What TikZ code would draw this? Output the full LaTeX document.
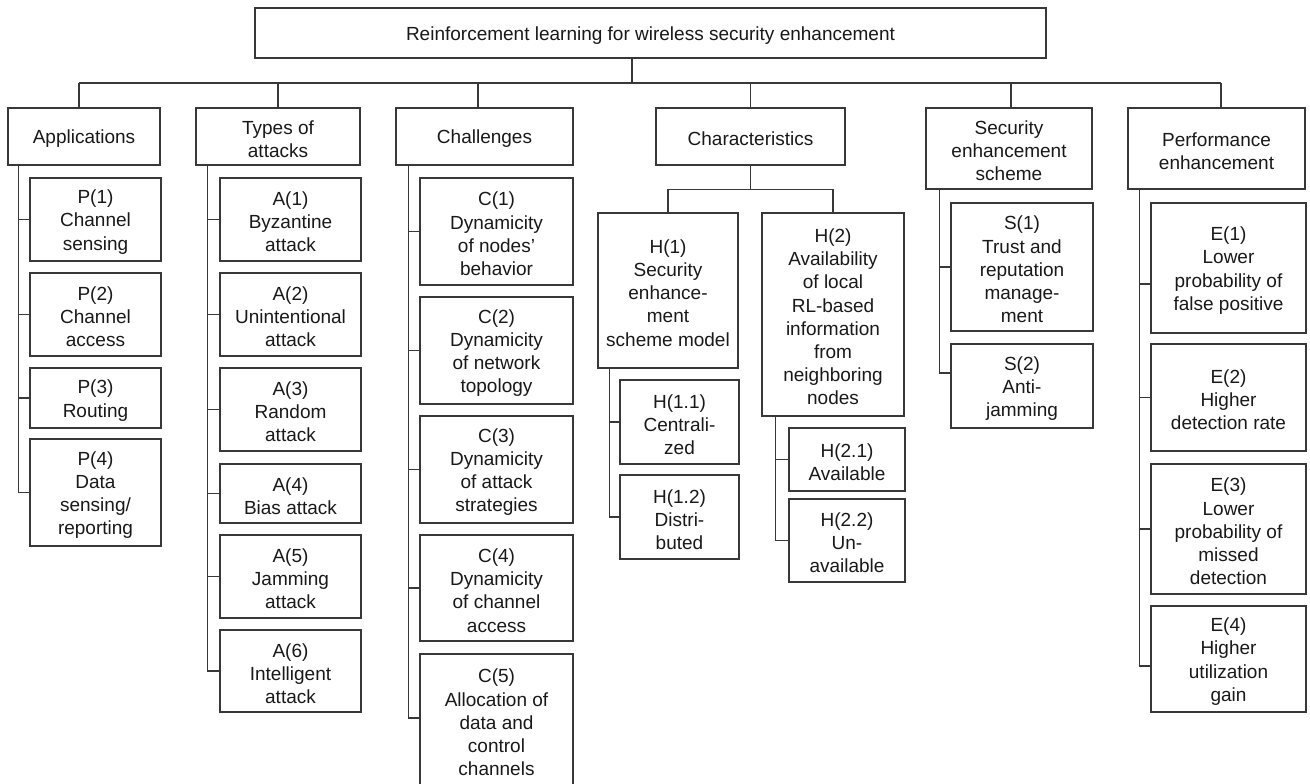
\documentclass[tikz,border=0pt]{standalone}
\usepackage{fontspec}
\setmainfont{Liberation Sans}
\tikzset{
  bx/.style={draw=black!78, line width=1.2pt, fill=white, inner sep=0pt},
  lbl/.style={inner sep=0pt, align=center, text=black!90,
    font=\fontsize{19pt}{23.2pt}\selectfont},
  wire/.style={draw=black!78, line width=1.2pt},
}
% box node #1 centred at (#2,#3), #4 wide and #5 high, with its text #6 as node #1t
\newcommand{\bxn}[6]{%
  \node[bx, minimum width=#4pt, minimum height=#5pt] (#1) at (#2,#3) {};
  \node[lbl] (#1t) at ([yshift=-2.5pt]#1.center) {#6};}
\begin{document}
\begin{tikzpicture}[x=1pt,y=-1pt]
\useasboundingbox (0,0) rectangle (1310,784);

% root
\bxn{root}{650.5}{33}{791}{50}{Reinforcement learning for wireless security enhancement}

% first level
\bxn{app}{84}{136.5}{152}{57}{Applications}
\bxn{typ}{278}{136.5}{164}{57}{Types of\\attacks}
\bxn{chal}{484.5}{136.5}{177}{57}{Challenges}
\bxn{char}{750.5}{136.5}{189}{57}{Characteristics}
\bxn{sec}{1009}{148.5}{166}{81}{Security\\enhancement\\scheme}
\bxn{perf}{1216.5}{148.5}{177}{81}{Performance\\enhancement}

% applications
\bxn{p1}{95.5}{219.5}{131}{83}{P(1)\\Channel\\sensing}
\bxn{p2}{95.5}{314.5}{131}{83}{P(2)\\Channel\\access}
\bxn{p3}{95.5}{398}{131}{60}{P(3)\\Routing}
\bxn{p4}{95.5}{492.5}{131}{107}{P(4)\\Data\\sensing/\\reporting}

% types of attacks
\bxn{a1}{290.5}{219.5}{141}{83}{A(1)\\Byzantine\\attack}
\bxn{a2}{290.5}{314.5}{141}{83}{A(2)\\Unintentional\\attack}
\bxn{a3}{290.5}{409.5}{141}{83}{A(3)\\Random\\attack}
\bxn{a4}{290.5}{493.5}{141}{59}{A(4)\\Bias attack}
\bxn{a5}{290.5}{576.5}{141}{83}{A(5)\\Jamming\\attack}
\bxn{a6}{290.5}{671}{141}{82}{A(6)\\Intelligent\\attack}

% challenges
\bxn{c1}{496.5}{231.5}{153}{107}{C(1)\\Dynamicity\\of nodes’\\behavior}
\bxn{c2}{496.5}{350.5}{153}{107}{C(2)\\Dynamicity\\of network\\topology}
\bxn{c3}{496.5}{469.5}{153}{107}{C(3)\\Dynamicity\\of attack\\strategies}
\bxn{c4}{496.5}{588}{153}{106}{C(4)\\Dynamicity\\of channel\\access}
\bxn{c5}{496.5}{720}{153}{132}{C(5)\\Allocation of\\data and\\control\\channels}

% characteristics
\bxn{h1}{668}{290.5}{140}{155}{H(1)\\Security\\enhance-\\ment\\scheme model}
\bxn{h2}{833}{314.5}{142}{203}{H(2)\\Availability\\of local\\RL-based\\information\\from\\neighboring\\nodes}
\bxn{h11}{679.5}{422}{119}{84}{H(1.1)\\Centrali-\\zed}
\bxn{h12}{679.5}{517}{119}{84}{H(1.2)\\Distri-\\buted}
\bxn{h21}{847}{459.5}{116}{63}{H(2.1)\\Available}
\bxn{h22}{847}{540.5}{116}{83}{H(2.2)\\Un-\\available}

% security enhancement scheme
\bxn{s1}{1022}{267}{142}{128}{S(1)\\Trust and\\reputation\\manage-\\ment}
\bxn{s2}{1022}{386}{142}{84}{S(2)\\Anti-\\jamming}

% performance enhancement
\bxn{e1}{1228.5}{268}{155}{130}{E(1)\\Lower\\probability of\\false positive}
\bxn{e2}{1228.5}{397.5}{155}{107}{E(2)\\Higher\\detection rate}
\bxn{e3}{1228.5}{529}{155}{130}{E(3)\\Lower\\probability of\\missed\\detection}
\bxn{e4}{1228.5}{659}{155}{106}{E(4)\\Higher\\utilization\\gain}

% trunk and bus under the root
\coordinate (busL) at (79,83);
\coordinate (busR) at (1221,83);
\draw[wire] ([xshift=-18.5pt]root.south) -- ([xshift=-18.5pt]root.south |- busL);
\draw[wire] (busL) -- (busR);
\draw[wire] (app.north -| busL) -- (busL);
\draw[wire] (typ.north) -- (typ.north |- busL);
\draw[wire] ([xshift=-6.5pt]chal.north) -- ([xshift=-6.5pt]chal.north |- busL);
\draw[wire] (char.north) -- (char.north |- busL);
\draw[wire] ([xshift=2pt]sec.north) -- ([xshift=2pt]sec.north |- busL);
\draw[wire] (perf.north -| busR) -- (busR);

% applications rail
\coordinate (appR) at ([xshift=11pt]app.south west);
\draw[wire] (appR) |- (p4.west);
\foreach \n in {p1,p2,p3} \draw[wire] (\n.west) -- (\n.west -| appR);

% types rail
\coordinate (typR) at ([xshift=12pt]typ.south west);
\draw[wire] (typR) |- (a6.west);
\foreach \n in {a1,a2,a3,a4,a5} \draw[wire] (\n.west) -- (\n.west -| typR);

% challenges rail
\coordinate (chalR) at ([xshift=13pt]chal.south west);
\draw[wire] (chalR) |- ([yshift=2pt]c5.west);
\foreach \n in {c1,c2,c3,c4} \draw[wire] (\n.west) -- (\n.west -| chalR);

% characteristics split
\coordinate (charJ) at ([yshift=-24pt]char.south);
\draw[wire] (char.south) -- (charJ);
\draw[wire] (h1.north) |- (charJ) -| (h2.north);

% H(1) and H(2) rails
\coordinate (h1R) at ([xshift=12pt]h1.south west);
\draw[wire] (h1R) |- (h12.west);
\draw[wire] (h11.west) -- (h11.west -| h1R);
\coordinate (h2R) at ([xshift=14pt]h2.south west);
\draw[wire] (h2R) |- (h22.west);
\draw[wire] (h21.west) -- (h21.west -| h2R);

% security rail
\coordinate (secR) at ([xshift=14pt]sec.south west);
\draw[wire] (secR) |- ([yshift=13pt]s2.west);
\draw[wire] (s1.west) -- (s1.west -| secR);

% performance rail
\coordinate (perfR) at ([xshift=12pt]perf.south west);
\draw[wire] (perfR) |- ([yshift=-7pt]e4.west);
\draw[wire] ([yshift=-16pt]e1.west) -- ([yshift=-16pt]e1.west -| perfR);
\foreach \n in {e2,e3} \draw[wire] (\n.west) -- (\n.west -| perfR);
\end{tikzpicture}
\end{document}
